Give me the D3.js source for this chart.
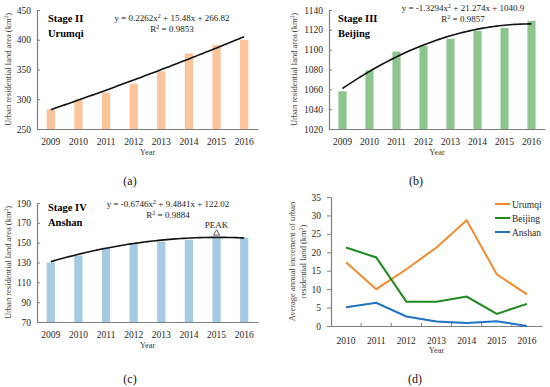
<!DOCTYPE html>
<html>
<head>
<meta charset="utf-8">
<script src="https://cdn.jsdelivr.net/npm/d3@7"></script>
<style>
  body { margin: 0; background: #fff; }
  svg { display: block; }
</style>
</head>
<body>
<svg id="chart" width="550" height="387"></svg>
<script>
// data
const years = ['2009', '2010', '2011', '2012', '2013', '2014', '2015', '2016'];
const urumqiArea = [283, 300, 311, 326, 347, 377, 391, 400];
const beijingArea = [1058, 1079, 1098, 1104, 1111, 1119, 1122, 1129];
const anshanArea = [130, 137, 145, 149, 151, 153, 155, 155];

// trend coefficients [a, b, c] for y = a x^2 + b x + c, as printed on the chart
const urumqiFit = [0.2262, 15.48, 266.82];
const beijingFit = [-1.3294, 21.274, 1040.9];
const anshanFit = [-0.6746, 9.4841, 122.02];

const incYears = ['2010', '2011', '2012', '2013', '2014', '2015', '2016'];
const urumqiInc = [17.3, 10.0, 15.4, 21.3, 28.7, 14.0, 8.6];
const beijingInc = [21.3, 18.6, 6.6, 6.6, 8.0, 3.3, 6.0];
const anshanInc = [5.1, 6.3, 2.6, 1.2, 0.8, 1.3, 0.0];

const svg = d3.select('#chart');
const axisColor = '#7f7f7f';

// the default face here is the Times-like serif, so no family is named
function styleAxis(g) {
  g.attr('font-family', null).attr('font-size', 9.5);
  g.selectAll('path').attr('stroke', axisColor).attr('stroke-width', 1.2);
  g.selectAll('line').attr('stroke', axisColor);
  g.selectAll('text').attr('fill', '#262626');
}

function barPanel(opt) {
  const g = svg.append('g');
  const x = d3.scaleBand().domain(years).range([opt.x0, opt.x1]).paddingInner(0.7).paddingOuter(0.35);
  const y = d3.scaleLinear().domain(opt.domain).range([opt.y1, opt.y0]);

  g.selectAll('rect')
    .data(opt.values)
    .join('rect')
    .attr('x', (d, i) => x(years[i]))
    .attr('width', x.bandwidth())
    .attr('y', d => y(d))
    .attr('height', d => y(opt.domain[0]) - y(d))
    .attr('fill', opt.color);

  // trendline from the printed polynomial
  const fit = opt.fit;
  const band = x.step();
  const pts = d3.range(1, 8.01, 0.1).map(t => {
    const cx = x(years[0]) + x.bandwidth() / 2 + (t - 1) * band;
    return [cx, y(fit[0] * t * t + fit[1] * t + fit[2])];
  });
  g.append('path')
    .attr('d', d3.line()(pts))
    .attr('fill', 'none')
    .attr('stroke', '#111')
    .attr('stroke-width', 1.6);

  const xa = g.append('g')
    .attr('transform', `translate(0,${opt.y1})`)
    .call(d3.axisBottom(x).tickSize(0).tickPadding(9).tickSizeOuter(0));
  styleAxis(xa);

  const ya = g.append('g')
    .attr('transform', `translate(${opt.x0},0)`)
    .call(d3.axisLeft(y).tickValues(opt.ticks).tickFormat(d3.format('d'))
      .tickSize(-3).tickPadding(6).tickSizeOuter(0));
  styleAxis(ya);

  g.append('text')
    .attr('x', (opt.x0 + opt.x1) / 2)
    .attr('y', opt.y1 + 26)
    .attr('text-anchor', 'middle')
    .attr('font-size', 8.5)
    .attr('fill', '#404040')
    .text('Year');

  const yt = g.append('text')
    .attr('transform', `translate(${opt.titleX},${(opt.y0 + opt.y1) / 2}) rotate(-90)`)
    .attr('text-anchor', 'middle')
    .attr('font-size', 8.5)
    .attr('fill', '#404040');
  yt.append('tspan').text('Urban residential land area (km');
  yt.append('tspan').attr('font-size', 5.5).attr('dy', -3).text('2');
  yt.append('tspan').attr('dy', 3).text(')');

  g.append('text').attr('x', opt.stageX).attr('y', opt.stageY)
    .attr('font-weight', 'bold').attr('font-size', 10.5).text(opt.stage);
  g.append('text').attr('x', opt.stageX).attr('y', opt.stageY + 15)
    .attr('font-weight', 'bold').attr('font-size', 10.5).text(opt.city);

  const eq = g.append('text').attr('x', opt.eqX).attr('y', opt.eqY)
    .attr('text-anchor', 'middle').attr('font-size', 9).attr('fill', '#222');
  eq.append('tspan').text(opt.eq[0]);
  eq.append('tspan').attr('font-size', 6).attr('dy', -3).text('2');
  eq.append('tspan').attr('dy', 3).text(opt.eq[1]);
  const r2 = g.append('text').attr('x', opt.eqX).attr('y', opt.eqY + 11)
    .attr('text-anchor', 'middle').attr('font-size', 9).attr('fill', '#222');
  r2.append('tspan').text('R');
  r2.append('tspan').attr('font-size', 6).attr('dy', -3).text('2');
  r2.append('tspan').attr('dy', 3).text(' = ' + opt.r2);

  g.append('text')
    .attr('x', opt.labelX).attr('y', opt.labelY)
    .attr('text-anchor', 'middle').attr('font-size', 12).attr('fill', '#111')
    .text(opt.label);

  return { x, y, g };
}

barPanel({
  x0: 37, x1: 258, y0: 10, y1: 129, domain: [250, 450], ticks: d3.range(250, 451, 50),
  values: urumqiArea, fit: urumqiFit, color: '#fcc49a', titleX: 11,
  stage: 'Stage II', city: 'Urumqi', stageX: 48, stageY: 22, eqX: 172, eqY: 21,
  eq: ['y = 0.2262x', ' + 15.48x + 266.82'], r2: '0.9853',
  label: '(a)', labelX: 130, labelY: 185
});

barPanel({
  x0: 329, x1: 545, y0: 10, y1: 129, domain: [1020, 1140], ticks: d3.range(1020, 1141, 20),
  values: beijingArea, fit: beijingFit, color: '#8cc58e', titleX: 297,
  stage: 'Stage III', city: 'Beijing', stageX: 338, stageY: 22, eqX: 463, eqY: 11,
  eq: ['y = -1.3294x', ' + 21.274x + 1040.9'], r2: '0.9857',
  label: '(b)', labelX: 416, labelY: 185
});

const pc = barPanel({
  x0: 37, x1: 258, y0: 203, y1: 322, domain: [70, 190], ticks: d3.range(70, 191, 20),
  values: anshanArea, fit: anshanFit, color: '#a5cbe3', titleX: 11,
  stage: 'Stage IV', city: 'Anshan', stageX: 48, stageY: 211, eqX: 168, eqY: 207,
  eq: ['y = -0.6746x', ' + 9.4841x + 122.02'], r2: '0.9884',
  label: '(c)', labelX: 130, labelY: 383
});

// PEAK marker on panel c
{
  const t = 7;
  const px = pc.x('2015') + pc.x.bandwidth() / 2;
  const py = pc.y(anshanFit[0] * t * t + anshanFit[1] * t + anshanFit[2]);
  pc.g.append('path')
    .attr('d', d3.symbol(d3.symbolTriangle, 16)())
    .attr('transform', `translate(${px},${py - 4})`)
    .attr('fill', '#fff').attr('stroke', '#333').attr('stroke-width', 0.8);
  pc.g.append('text').attr('x', px).attr('y', py - 9)
    .attr('text-anchor', 'middle').attr('font-size', 9).attr('fill', '#222').text('PEAK');
}

// panel d: annual increments
{
  const x0 = 331, x1 = 542, y0 = 197, y1 = 326;
  const g = svg.append('g');
  const x = d3.scaleBand().domain(incYears).range([x0, x1]);
  const y = d3.scaleLinear().domain([0, 35]).range([y1, y0]);

  const series = [
    { name: 'Urumqi', values: urumqiInc, color: '#f58a2c' },
    { name: 'Beijing', values: beijingInc, color: '#1f8a1f' },
    { name: 'Anshan', values: anshanInc, color: '#1f72c4' }
  ];

  const line = d3.line()
    .x((d, i) => x(incYears[i]) + x.bandwidth() / 2)
    .y(d => y(d));

  const xa = g.append('g')
    .attr('transform', `translate(0,${y1})`)
    .call(d3.axisBottom(x).tickSize(0).tickPadding(11).tickSizeOuter(0));
  styleAxis(xa);
  xa.selectAll('.bound')
    .data(incYears.slice(1))
    .join('line')
    .attr('x1', d => x(d)).attr('x2', d => x(d))
    .attr('y1', 0).attr('y2', -3)
    .attr('stroke', axisColor);

  const ya = g.append('g')
    .attr('transform', `translate(${x0},0)`)
    .call(d3.axisLeft(y).tickValues(d3.range(0, 36, 5)).tickSize(4).tickPadding(6).tickSizeOuter(0));
  styleAxis(ya);

  g.selectAll('.series')
    .data(series)
    .join('path')
    .attr('d', s => line(s.values))
    .attr('fill', 'none')
    .attr('stroke', s => s.color)
    .attr('stroke-width', 2);

  const lg = g.selectAll('.leg')
    .data(series)
    .join('g')
    .attr('transform', (s, i) => `translate(495,${204 + i * 14})`);
  lg.append('line').attr('x1', 0).attr('x2', 15)
    .attr('stroke', s => s.color).attr('stroke-width', 2);
  lg.append('text').attr('x', 17).attr('y', 3.5)
    .attr('font-size', 9.5).attr('fill', '#262626').text(s => s.name);

  g.append('text')
    .attr('x', (x0 + x1) / 2).attr('y', y1 + 27)
    .attr('text-anchor', 'middle').attr('font-size', 8.5).attr('fill', '#404040')
    .text('Year');

  const yt = g.append('text')
    .attr('transform', `translate(295,${(y0 + y1) / 2}) rotate(-90)`)
    .attr('text-anchor', 'middle').attr('font-size', 8.5).attr('fill', '#404040');
  yt.append('tspan').attr('x', 0).attr('dy', 0).text('Average annual increment of urban');
  yt.append('tspan').attr('x', 0).attr('dy', 10.5).text('residential  land (km');
  yt.append('tspan').attr('font-size', 5.5).attr('dy', -3).text('2');
  yt.append('tspan').attr('dy', 3).text(')');

  g.append('text').attr('x', 415).attr('y', 383)
    .attr('text-anchor', 'middle').attr('font-size', 12).attr('fill', '#111')
    .text('(d)');
}
</script>
</body>
</html>
